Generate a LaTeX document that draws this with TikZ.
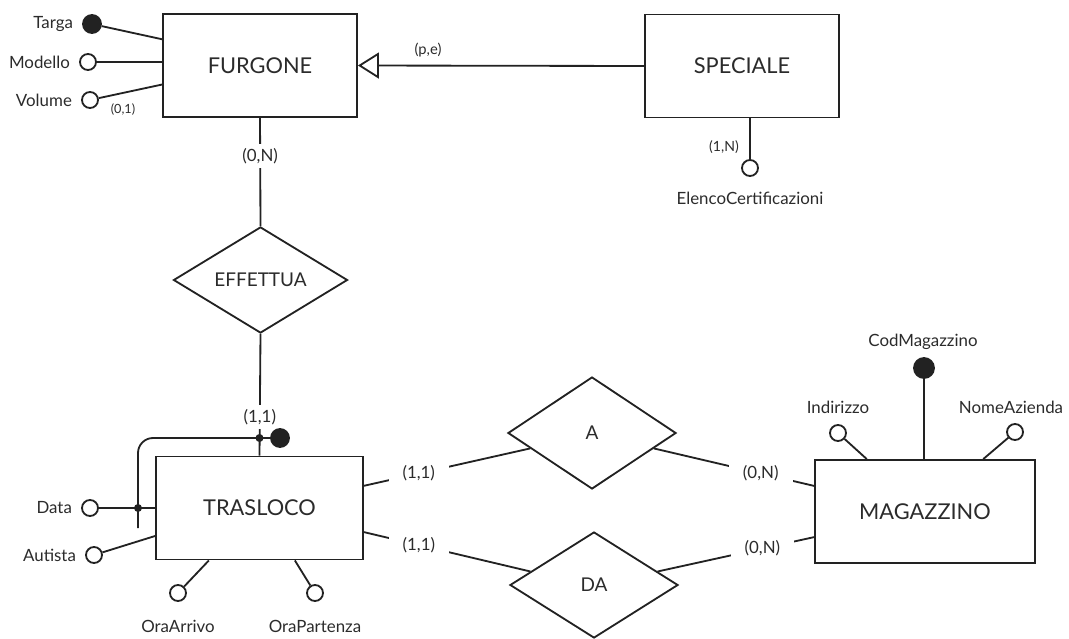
\documentclass[tikz,border=0pt]{standalone}
\usepackage{fontspec}
\setmainfont{Lato}
\usetikzlibrary{shapes.geometric,arrows.meta,positioning}
\definecolor{ink}{HTML}{222222}
\definecolor{txt}{HTML}{2b2b2b}

\begin{document}
\begin{tikzpicture}[
        x=0.025cm, y=-0.025cm,
        entity/.style={draw=ink, line width=1.3pt, minimum width=4.85cm, minimum height=2.575cm, font=\fontsize{15.5}{18}\selectfont, text=txt},
        relation/.style={draw=ink, line width=1.3pt, diamond, inner sep=0pt, font=\fontsize{13.5}{16}\selectfont, text=txt},
        attr/.style={draw=ink, line width=1.3pt, circle, fill=white, minimum size=0.4cm, inner sep=0pt},
        key/.style={attr, fill=ink, minimum size=0.45cm},
        dot/.style={circle, fill=ink, inner sep=0pt, minimum size=0.2cm},
        lbl/.style={font=\fontsize{12}{14}\selectfont, text=txt},
        card/.style={font=\fontsize{12}{14}\selectfont, text=txt, fill=white, inner xsep=10pt, inner ysep=3pt},
        cardv/.style={card, inner xsep=2pt, inner ysep=3pt},
        small/.style={font=\fontsize{9}{11}\selectfont, text=txt},
        link/.style={draw=ink, line width=1.3pt},
        >={Triangle[open, length=0.525cm, width=0.65cm]}
    ]
        \useasboundingbox (0,0) rectangle (1069,638);

        % Entities
        \node[entity] (furg) at (260,65.5) {FURGONE};
        \node[entity] (spec) at (742,66) {SPECIALE};
        \node[entity, minimum width=5.175cm] (tras) at (259.5,508) {TRASLOCO};
        \node[entity, minimum width=5.5cm] (mag) at (925,511.5) {MAGAZZINO};

        % Relations
        \node[relation, minimum width=4.35cm, minimum height=2.5cm] (effettua) at (260.5,280) {EFFETTUA};
        \node[relation, minimum width=4.2cm, minimum height=2.8cm] (A) at (592,433) {A};
        \node[relation, minimum width=4.2cm, minimum height=2.65cm] (DA) at (594,585) {DA};

        % Generalization
        \draw[link, ->] (spec.west) -- (furg.east);
        \node[small, font=\fontsize{10.5}{12}\selectfont] (pe) at (428,50) {(p,e)};

        % FURGONE attributes
        \node[key] (targa) at (92,24) {};
        \node[attr] (modello) at (88,62) {};
        \node[attr] (volume) at (90,100) {};
        \node[lbl, left=3pt of targa] (targaL) {Targa};
        \node[lbl, left=3pt of modello] (modelloL) {Modello};
        \node[lbl, left=3pt of volume] (volumeL) {Volume};
        \node[small] (volC) at (123,110) {(0,1)};
        \draw[link] (targa) -- (furg.165);
        \draw[link] (modello) -- (modello -| furg.west);
        \draw[link] (volume) -- (furg.191);

        % SPECIALE attribute
        \node[attr] (elenco) at (750,168) {};
        \node[lbl] (elencoL) at (750,198) {ElencoCertificazioni};
        \node[small, font=\fontsize{10}{12}\selectfont] (elencoC) at (724,147) {(1,N)};
        \draw[link] (elenco) -- (elenco |- spec.south);

        % FURGONE - EFFETTUA - TRASLOCO
        \draw[link] (furg.south) -- node[cardv, pos=0.35] {(0,N)} (effettua.north);
        \draw[link] (effettua.south) -- node[cardv, pos=0.685] {(1,1)} (tras.north);

        % TRASLOCO attributes
        \node[attr] (data) at (90,508) {};
        \node[attr] (autista) at (94,555) {};
        \node[attr] (oraarr) at (178,593) {};
        \node[attr] (orapar) at (315,593) {};
        \node[lbl, left=3pt of data] (dataL) {Data};
        \node[lbl, left=3pt of autista] (autistaL) {Autista};
        \node[lbl] (oraarrL) at (178,626) {OraArrivo};
        \node[lbl] (oraparL) at (315,626) {OraPartenza};
        \draw[link] (data) -- (data -| tras.west);
        \draw[link] (autista) -- (tras.195);
        \draw[link] (oraarr) -- (tras.226);
        \draw[link] (orapar) -- (tras.304);

        % external identifier
        \node[key] (idkey) at (280,438) {};
        \coordinate (idend) at (138,528);
        \draw[link, rounded corners=0.375cm] (idkey.west) -- (idkey.west -| idend) -- (idend);
        \node[dot] (dot1) at (tras.north |- idkey) {};
        \node[dot] (dot2) at (idend |- data) {};

        % MAGAZZINO attributes
        \node[key, minimum size=0.5cm] (codmag) at (924,368) {};
        \node[attr] (indirizzo) at (838,433) {};
        \node[attr] (nomeaz) at (1015,432) {};
        \node[lbl] (codmagL) at (923,342) {CodMagazzino};
        \node[lbl] (indirizzoL) at (838,407) {Indirizzo};
        \node[lbl] (nomeazL) at (1011,407) {NomeAzienda};
        \draw[link] (codmag) -- (codmag |- mag.north);
        \draw[link] (indirizzo) -- (mag.138);
        \draw[link] (nomeaz) -- (mag.42);

        % TRASLOCO - A / DA - MAGAZZINO
        \draw[link] (tras.12) -- node[card, pos=0.33] {(1,1)} (A.194);
        \draw[link] (A.346) -- node[card, pos=0.667] {(0,N)} (mag.167);
        \draw[link] (tras.-13) -- node[card, pos=0.33] {(1,1)} (DA.168);
        \draw[link] (DA.12) -- node[card, pos=0.67] {(0,N)} (mag.193);
    \end{tikzpicture}
\end{document}
